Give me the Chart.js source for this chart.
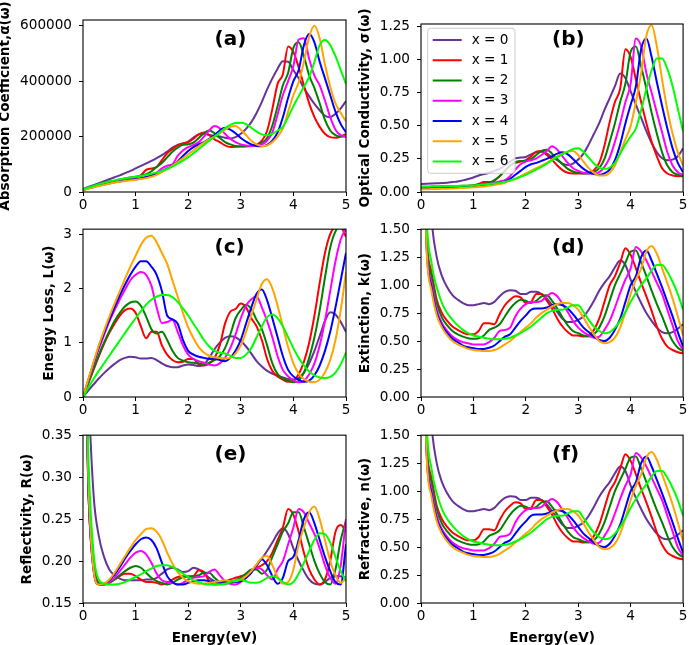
<!DOCTYPE html>
<html><head><meta charset="utf-8">
<script src="https://cdn.jsdelivr.net/npm/chart.js@4.4.0/dist/chart.umd.min.js"></script>
<style>
body{margin:0;background:#fff;width:689px;height:645px;overflow:hidden;position:relative}
canvas{position:absolute}
</style></head><body>
<canvas id="pa" width="352" height="214" style="left:0;top:0"></canvas>
<canvas id="pb" width="351" height="214" style="left:338px;top:0"></canvas>
<canvas id="pc" width="352" height="206" style="left:0;top:214px"></canvas>
<canvas id="pd" width="351" height="206" style="left:338px;top:214px"></canvas>
<canvas id="pe" width="352" height="225" style="left:0;top:420px"></canvas>
<canvas id="pf" width="351" height="225" style="left:338px;top:420px"></canvas>
<script>
// ---------------- data ----------------
const energy = [0,0.1,0.2,0.3,0.4,0.5,0.6,0.7,0.8,0.9,1,1.1,1.2,1.3,1.4,1.5,1.6,1.7,1.8,1.9,2,2.1,2.2,2.3,2.4,2.5,2.6,2.7,2.8,2.9,3,3.1,3.2,3.3,3.4,3.5,3.6,3.7,3.8,3.9,4,4.1,4.2,4.3,4.4,4.5,4.6,4.7,4.8,4.9,5];
const seriesNames = ['x = 0','x = 1','x = 2','x = 3','x = 4','x = 5','x = 6'];
const seriesColors = ['#663399','#ff0000','#008000','#ff00ff','#0000ff','#ffa500','#00ff00'];

const xTicks = [0,1,2,3,4,5];
const xTickLabels = ['0','1','2','3','4','5'];

// (a) absorption coefficient, in units of 1000
const absorptionK = [
 [10,18,25,32,39,46,53,60,68,76,85,94,103,112,122,133,146,160,170,175,182,196,208,210,206,203,200,196,193,198,210,228,252,285,325,370,410,445,472,470,440,410,375,345,318,295,275,270,282,302,328],
 [8,14,19,24,29,34,38,42,45,48,52,60,80,85,90,115,140,155,168,175,180,192,208,215,205,190,180,168,162,163,165,165,166,170,185,220,300,390,425,525,505,450,385,320,270,235,210,198,196,200,210],
 [8,15,21,27,32,37,41,45,49,52,55,59,64,75,90,105,125,145,160,170,172,178,195,212,222,212,195,180,172,166,164,165,167,170,178,195,240,310,385,430,520,540,490,420,375,320,260,222,205,200,200],
 [8,14,19,24,29,33,37,40,43,45,47,50,54,60,70,85,95,100,130,150,162,170,180,200,222,238,230,210,192,180,172,168,166,168,172,185,215,280,350,400,455,550,555,480,420,385,330,270,225,205,200],
 [7,13,18,23,27,31,35,38,41,44,46,49,53,58,65,75,85,95,110,130,148,162,172,180,192,205,222,232,225,212,195,182,172,166,165,170,185,215,270,340,400,440,530,570,540,470,410,350,290,245,215],
 [7,12,17,22,26,30,34,37,40,42,44,47,50,55,62,72,83,95,108,122,136,150,165,178,190,200,212,225,235,238,225,205,185,172,166,168,180,200,230,290,350,395,470,560,600,555,460,380,320,285,255],
 [9,16,22,28,33,38,42,46,49,52,55,58,62,66,70,76,83,92,102,113,126,140,155,170,185,200,215,230,242,249,250,245,232,218,208,205,210,222,235,270,310,345,380,415,470,530,548,530,490,440,390]
];
const absorptionTicks = [0,200,400,600];
const absorptionTickLabels = ['0','200000','400000','600000'];

// (b) optical conductivity
const conductivity = [
 [0.06,0.062,0.064,0.066,0.068,0.07,0.075,0.08,0.088,0.098,0.11,0.125,0.135,0.145,0.16,0.175,0.2,0.23,0.255,0.26,0.265,0.285,0.3,0.305,0.29,0.265,0.24,0.215,0.205,0.215,0.245,0.29,0.36,0.44,0.52,0.62,0.71,0.8,0.895,0.86,0.76,0.66,0.56,0.46,0.37,0.3,0.255,0.24,0.245,0.27,0.33],
 [0.03,0.03,0.031,0.032,0.033,0.034,0.035,0.037,0.04,0.045,0.05,0.06,0.075,0.075,0.085,0.12,0.16,0.2,0.22,0.23,0.24,0.27,0.305,0.31,0.28,0.245,0.2,0.165,0.145,0.14,0.14,0.14,0.145,0.165,0.22,0.35,0.53,0.68,0.78,1.08,1.02,0.85,0.68,0.52,0.38,0.27,0.18,0.14,0.125,0.12,0.12],
 [0.04,0.04,0.041,0.042,0.043,0.044,0.045,0.046,0.047,0.048,0.05,0.055,0.06,0.07,0.09,0.12,0.16,0.2,0.225,0.235,0.235,0.25,0.28,0.31,0.32,0.29,0.25,0.21,0.175,0.155,0.145,0.14,0.14,0.15,0.18,0.25,0.38,0.52,0.68,0.82,1.06,1.1,0.95,0.78,0.6,0.44,0.3,0.2,0.15,0.13,0.12],
 [0.03,0.03,0.031,0.032,0.033,0.034,0.035,0.037,0.039,0.042,0.045,0.05,0.055,0.06,0.07,0.08,0.09,0.12,0.17,0.21,0.23,0.24,0.255,0.28,0.31,0.345,0.32,0.27,0.22,0.18,0.16,0.145,0.14,0.14,0.15,0.19,0.26,0.38,0.52,0.68,0.82,1.16,1.1,0.9,0.75,0.6,0.45,0.3,0.2,0.15,0.13],
 [0.03,0.03,0.031,0.032,0.033,0.034,0.035,0.036,0.037,0.038,0.04,0.043,0.047,0.052,0.06,0.07,0.08,0.1,0.13,0.16,0.19,0.21,0.22,0.235,0.25,0.27,0.29,0.3,0.285,0.25,0.21,0.175,0.15,0.135,0.13,0.14,0.17,0.24,0.36,0.52,0.66,0.8,1.08,1.16,1.02,0.83,0.65,0.48,0.33,0.22,0.15],
 [0.02,0.021,0.022,0.023,0.024,0.025,0.027,0.029,0.031,0.033,0.035,0.038,0.042,0.047,0.053,0.06,0.07,0.085,0.1,0.12,0.14,0.16,0.18,0.2,0.22,0.245,0.27,0.29,0.305,0.31,0.28,0.23,0.18,0.145,0.125,0.125,0.145,0.2,0.3,0.4,0.5,0.68,0.9,1.18,1.26,1.1,0.85,0.62,0.44,0.3,0.2],
 [0.04,0.04,0.041,0.042,0.043,0.044,0.045,0.046,0.047,0.048,0.05,0.053,0.056,0.06,0.065,0.07,0.078,0.088,0.1,0.115,0.13,0.15,0.17,0.19,0.215,0.24,0.265,0.285,0.305,0.325,0.33,0.305,0.26,0.215,0.185,0.175,0.185,0.22,0.29,0.36,0.42,0.48,0.62,0.78,0.92,1.01,1.01,0.93,0.8,0.63,0.46]
];
const conductivityTicks = [0,0.25,0.5,0.75,1,1.25];
const conductivityTickLabels = ['0.00','0.25','0.50','0.75','1.00','1.25'];

// (c) energy loss
const energyLoss = [
 [0,0.12,0.23,0.34,0.44,0.53,0.61,0.68,0.72,0.74,0.73,0.71,0.71,0.72,0.68,0.62,0.57,0.55,0.55,0.58,0.6,0.59,0.57,0.6,0.72,0.88,1,1.09,1.12,1.1,1.03,0.93,0.8,0.66,0.56,0.48,0.43,0.39,0.36,0.33,0.32,0.35,0.45,0.62,0.85,1.12,1.4,1.56,1.52,1.38,1.2],
 [0,0.25,0.5,0.75,0.98,1.18,1.35,1.5,1.6,1.63,1.55,1.3,1.08,1.2,1.2,0.95,0.78,0.68,0.64,0.65,0.7,0.7,0.6,0.58,0.62,0.72,0.95,1.35,1.57,1.62,1.72,1.65,1.45,1.3,1.05,0.7,0.48,0.38,0.32,0.28,0.3,0.42,0.65,1,1.5,2.1,2.65,3,3.12,3.12,2.95],
 [0,0.26,0.52,0.77,1,1.21,1.4,1.55,1.67,1.74,1.76,1.68,1.48,1.25,1.17,1.2,1.05,0.85,0.72,0.67,0.64,0.63,0.62,0.6,0.63,0.68,0.75,0.9,1.15,1.45,1.6,1.7,1.62,1.42,1.25,0.95,0.62,0.42,0.34,0.3,0.27,0.3,0.45,0.72,1.1,1.6,2.2,2.75,3.05,3.15,3.05],
 [0,0.3,0.6,0.88,1.14,1.39,1.6,1.8,1.98,2.15,2.25,2.3,2.25,2.05,1.65,1.36,1.38,1.42,1.2,0.95,0.78,0.7,0.66,0.63,0.6,0.58,0.62,0.72,0.9,1.15,1.45,1.68,1.8,1.85,1.65,1.4,1.1,0.75,0.5,0.38,0.31,0.27,0.3,0.42,0.62,0.95,1.4,1.95,2.5,2.9,3.1],
 [0,0.31,0.62,0.92,1.18,1.42,1.65,1.87,2.07,2.25,2.4,2.5,2.5,2.4,2.25,1.95,1.5,1.43,1.35,1.05,0.85,0.78,0.74,0.72,0.7,0.7,0.68,0.66,0.72,0.85,1.05,1.35,1.65,1.9,1.98,1.78,1.45,1.1,0.75,0.5,0.38,0.32,0.28,0.3,0.4,0.58,0.85,1.2,1.65,2.15,2.65],
 [0,0.32,0.64,0.95,1.22,1.48,1.72,1.95,2.18,2.4,2.6,2.8,2.93,2.97,2.85,2.65,2.45,2.15,1.85,1.55,1.28,1.08,0.92,0.82,0.76,0.73,0.72,0.71,0.72,0.8,0.95,1.2,1.5,1.8,2.08,2.17,2,1.68,1.3,0.92,0.62,0.43,0.33,0.28,0.27,0.32,0.45,0.68,1.05,1.6,2.3],
 [0,0.17,0.33,0.48,0.62,0.76,0.9,1.04,1.18,1.32,1.45,1.58,1.7,1.79,1.85,1.88,1.88,1.84,1.75,1.63,1.5,1.35,1.2,1.05,0.93,0.85,0.82,0.8,0.76,0.72,0.72,0.78,0.9,1.1,1.3,1.47,1.52,1.45,1.3,1.1,0.9,0.72,0.58,0.47,0.4,0.36,0.35,0.37,0.45,0.6,0.82]
];
const energyLossTicks = [0,1,2,3];
const energyLossTickLabels = ['0','1','2','3'];

// (d) extinction coefficient
const extinction = [
 [4,2.5,1.6,1.25,1.08,0.98,0.91,0.87,0.84,0.82,0.82,0.83,0.84,0.83,0.85,0.9,0.94,0.955,0.95,0.92,0.92,0.94,0.94,0.92,0.88,0.82,0.76,0.7,0.67,0.67,0.69,0.72,0.78,0.86,0.95,1.02,1.08,1.16,1.22,1.18,1.05,0.94,0.84,0.75,0.68,0.62,0.58,0.57,0.58,0.61,0.65],
 [4,1.5,1.12,0.87,0.75,0.68,0.63,0.6,0.575,0.56,0.56,0.59,0.66,0.66,0.65,0.74,0.82,0.87,0.9,0.89,0.84,0.85,0.92,0.92,0.86,0.79,0.7,0.63,0.58,0.55,0.55,0.54,0.55,0.6,0.7,0.85,1,1.08,1.2,1.33,1.27,1.15,1.02,0.9,0.77,0.63,0.52,0.45,0.42,0.4,0.39],
 [4,1.47,1.08,0.84,0.71,0.64,0.59,0.56,0.54,0.525,0.52,0.525,0.55,0.6,0.62,0.65,0.72,0.79,0.84,0.87,0.86,0.84,0.86,0.9,0.91,0.86,0.79,0.71,0.64,0.59,0.57,0.55,0.54,0.56,0.62,0.72,0.86,1,1.1,1.2,1.3,1.31,1.2,1.08,0.95,0.83,0.72,0.6,0.5,0.44,0.41],
 [4,1.44,1.02,0.78,0.66,0.59,0.54,0.51,0.49,0.48,0.47,0.47,0.47,0.49,0.53,0.59,0.6,0.62,0.72,0.79,0.83,0.85,0.85,0.86,0.9,0.93,0.9,0.83,0.76,0.68,0.62,0.58,0.55,0.53,0.54,0.6,0.68,0.8,0.93,1.05,1.15,1.34,1.3,1.22,1.12,1.02,0.92,0.78,0.64,0.5,0.42],
 [4,1.42,0.98,0.75,0.64,0.57,0.52,0.49,0.46,0.445,0.435,0.43,0.43,0.44,0.46,0.5,0.54,0.56,0.62,0.68,0.73,0.78,0.79,0.79,0.8,0.82,0.83,0.82,0.79,0.74,0.68,0.62,0.58,0.54,0.51,0.5,0.53,0.6,0.7,0.85,1,1.08,1.25,1.31,1.22,1.1,0.98,0.85,0.72,0.58,0.45],
 [4,1.4,0.95,0.73,0.62,0.55,0.5,0.47,0.45,0.43,0.42,0.415,0.41,0.41,0.42,0.44,0.47,0.5,0.54,0.58,0.62,0.66,0.71,0.75,0.78,0.81,0.83,0.84,0.84,0.82,0.78,0.71,0.63,0.56,0.5,0.48,0.49,0.53,0.62,0.76,0.92,1.05,1.15,1.3,1.35,1.28,1.15,1.02,0.88,0.72,0.55],
 [4,1.7,1.2,0.98,0.84,0.75,0.69,0.64,0.6,0.57,0.55,0.54,0.53,0.52,0.515,0.515,0.52,0.53,0.55,0.57,0.6,0.63,0.67,0.71,0.75,0.77,0.78,0.78,0.8,0.82,0.82,0.76,0.69,0.63,0.59,0.57,0.58,0.62,0.68,0.76,0.85,0.93,1,1.06,1.13,1.18,1.18,1.12,1.03,0.92,0.78]
];
const kTicks = [0,0.25,0.5,0.75,1,1.25,1.5];
const kTickLabels = ['0.00','0.25','0.50','0.75','1.00','1.25','1.50'];

// (e) reflectivity
const reflectivity = [
 [0.7,0.42,0.28,0.23,0.205,0.19,0.183,0.179,0.177,0.177,0.177,0.177,0.178,0.178,0.18,0.185,0.19,0.192,0.19,0.187,0.188,0.192,0.19,0.185,0.18,0.176,0.174,0.174,0.175,0.177,0.18,0.183,0.188,0.195,0.203,0.212,0.222,0.233,0.239,0.232,0.215,0.2,0.188,0.178,0.173,0.172,0.175,0.18,0.182,0.182,0.18],
 [0.6,0.3,0.2,0.174,0.172,0.174,0.178,0.182,0.185,0.185,0.182,0.178,0.175,0.175,0.174,0.172,0.174,0.178,0.181,0.182,0.181,0.182,0.189,0.187,0.176,0.172,0.173,0.175,0.178,0.18,0.182,0.184,0.188,0.192,0.195,0.2,0.21,0.225,0.24,0.262,0.255,0.235,0.21,0.19,0.178,0.172,0.178,0.2,0.235,0.243,0.235],
 [0.6,0.29,0.195,0.173,0.172,0.174,0.178,0.183,0.188,0.192,0.194,0.192,0.186,0.18,0.176,0.174,0.172,0.174,0.178,0.181,0.182,0.182,0.183,0.186,0.186,0.18,0.175,0.173,0.174,0.177,0.18,0.185,0.19,0.19,0.185,0.19,0.205,0.22,0.235,0.245,0.258,0.258,0.24,0.22,0.2,0.185,0.175,0.172,0.19,0.225,0.248],
 [0.6,0.29,0.19,0.172,0.172,0.175,0.18,0.188,0.196,0.204,0.21,0.212,0.208,0.198,0.185,0.177,0.175,0.174,0.172,0.174,0.178,0.18,0.181,0.182,0.187,0.19,0.183,0.176,0.173,0.172,0.175,0.18,0.188,0.192,0.19,0.183,0.178,0.19,0.2,0.22,0.24,0.262,0.258,0.245,0.232,0.215,0.195,0.18,0.173,0.195,0.25],
 [0.6,0.29,0.19,0.172,0.173,0.177,0.184,0.193,0.203,0.212,0.22,0.226,0.228,0.225,0.215,0.198,0.182,0.175,0.172,0.172,0.174,0.176,0.177,0.177,0.176,0.175,0.175,0.176,0.176,0.175,0.176,0.18,0.186,0.195,0.202,0.195,0.182,0.173,0.18,0.2,0.205,0.225,0.25,0.258,0.245,0.225,0.205,0.188,0.175,0.172,0.22],
 [0.6,0.3,0.19,0.172,0.173,0.178,0.186,0.196,0.206,0.216,0.225,0.232,0.238,0.239,0.235,0.225,0.21,0.197,0.187,0.18,0.176,0.174,0.173,0.173,0.174,0.175,0.176,0.177,0.176,0.176,0.178,0.182,0.188,0.196,0.204,0.206,0.195,0.181,0.173,0.175,0.19,0.22,0.24,0.258,0.265,0.25,0.225,0.2,0.183,0.174,0.18],
 [0.65,0.33,0.21,0.178,0.173,0.172,0.172,0.173,0.175,0.178,0.181,0.184,0.188,0.191,0.194,0.195,0.195,0.193,0.189,0.185,0.181,0.177,0.175,0.173,0.172,0.172,0.172,0.173,0.175,0.177,0.178,0.176,0.174,0.174,0.176,0.18,0.182,0.18,0.175,0.172,0.175,0.185,0.198,0.212,0.225,0.233,0.232,0.222,0.205,0.188,0.176]
];
const reflectivityTicks = [0.15,0.2,0.25,0.3,0.35];
const reflectivityTickLabels = ['0.15','0.20','0.25','0.30','0.35'];

// (f) refractive index: the picture shows the same curves as (d)
const refractive = extinction;
const nTicks = kTicks;
const nTickLabels = kTickLabels;

// ---------------- drawing ----------------
const FONT = "'DejaVu Sans', sans-serif";

const framePlugin = {
  id: 'frame',
  afterDatasetsDraw(chart) {
    const {ctx, chartArea: a} = chart;
    ctx.save();
    ctx.strokeStyle = '#000';
    ctx.lineWidth = 1.1;
    ctx.strokeRect(a.left, a.top, a.right - a.left, a.bottom - a.top);
    ctx.restore();
  }
};

const tagPlugin = {
  id: 'tag',
  afterDraw(chart, args, opts) {
    if (!opts.text) return;
    const {ctx, chartArea: a} = chart;
    ctx.save();
    ctx.font = 'bold 20px ' + FONT;
    ctx.fillStyle = '#000';
    ctx.textAlign = 'left';
    ctx.textBaseline = 'middle';
    ctx.fillText(opts.text, a.left + (a.right - a.left) * 0.5, a.top + opts.dy);
    ctx.restore();
  }
};

const boxLegendPlugin = {
  id: 'boxLegend',
  afterDraw(chart, args, opts) {
    if (!opts.show) return;
    const {ctx, chartArea: a} = chart;
    const x = a.left + 6.7, y = a.top + 4.3, w = 87.3, h = 145, r = 3;
    ctx.save();
    ctx.beginPath();
    ctx.moveTo(x + r, y);
    ctx.lineTo(x + w - r, y); ctx.arcTo(x + w, y, x + w, y + r, r);
    ctx.lineTo(x + w, y + h - r); ctx.arcTo(x + w, y + h, x + w - r, y + h, r);
    ctx.lineTo(x + r, y + h); ctx.arcTo(x, y + h, x, y + h - r, r);
    ctx.lineTo(x, y + r); ctx.arcTo(x, y, x + r, y, r);
    ctx.closePath();
    ctx.fillStyle = 'rgba(255,255,255,0.8)';
    ctx.fill();
    ctx.strokeStyle = '#cccccc';
    ctx.lineWidth = 1;
    ctx.stroke();
    ctx.font = '13.6px ' + FONT;
    ctx.textAlign = 'left';
    ctx.textBaseline = 'middle';
    chart.data.datasets.forEach((ds, i) => {
      const cy = a.top + 16 + 20.25 * i;
      ctx.strokeStyle = ds.borderColor;
      ctx.lineWidth = 2;
      ctx.beginPath();
      ctx.moveTo(a.left + 11.7, cy);
      ctx.lineTo(a.left + 40.7, cy);
      ctx.stroke();
      ctx.fillStyle = '#000';
      ctx.fillText(ds.label, a.left + 50.7, cy);
    });
    ctx.restore();
  }
};

function panel(p) {
  const box = p.box, pl = p.plot;
  const tickFont = {family: FONT, size: 13.6};
  const titleFont = {family: FONT, size: 13.6, weight: 'bold', lineHeight: 0};
  const gridOpts = {display: true, drawOnChartArea: false, drawTicks: true, tickLength: 4, color: '#000', lineWidth: 1};
  new Chart(document.getElementById(p.id), {
    type: 'line',
    data: {
      datasets: p.series.map((arr, i) => ({
        label: seriesNames[i],
        data: energy.map((e, j) => ({x: e, y: arr[j]})),
        borderColor: seriesColors[i],
        backgroundColor: seriesColors[i],
        borderWidth: 2,
        pointRadius: 0,
        fill: false,
        cubicInterpolationMode: 'monotone',
        order: -i
      }))
    },
    options: {
      responsive: false,
      animation: false,
      devicePixelRatio: 1,
      events: [],
      layout: {padding: {top: pl.t - box.top, left: 0, right: box.left + box.width - pl.r, bottom: 0}},
      plugins: {
        legend: {display: false},
        tooltip: {enabled: false},
        tag: {text: p.tag, dy: p.tagDy},
        boxLegend: {show: !!p.legend}
      },
      scales: {
        x: {
          type: 'linear', min: 0, max: 5,
          afterBuildTicks: s => { s.ticks = xTicks.map(v => ({value: v})); },
          afterFit: s => { s.height = box.top + box.height - pl.b; },
          ticks: {callback: (v, i) => xTickLabels[i], font: tickFont, color: '#000', padding: 1.6, maxRotation: 0, autoSkip: false},
          grid: gridOpts,
          border: {display: false},
          title: {display: !!p.xTitle, text: 'Energy(eV)', font: titleFont, color: '#000', padding: {top: 0, bottom: 7}}
        },
        y: {
          type: 'linear', min: p.yMin, max: p.yMax,
          afterBuildTicks: s => { s.ticks = p.yTicks.map(v => ({value: v})); },
          afterFit: s => { s.width = pl.l - box.left; },
          ticks: {callback: (v, i) => p.yTickLabels[i], font: tickFont, color: '#000', padding: 7, autoSkip: false},
          grid: gridOpts,
          border: {display: false},
          title: {display: true, text: p.yTitle, font: titleFont, color: '#000', padding: {top: p.yTitleX - box.left, bottom: 0}}
        }
      }
    },
    plugins: [framePlugin, tagPlugin, boxLegendPlugin]
  });
}

panel({id: 'pa', box: {left: 0, top: 0, width: 352, height: 214}, plot: {l: 83, t: 20, r: 346, b: 192},
  series: absorptionK, yMin: 0, yMax: 620.6, yTicks: absorptionTicks, yTickLabels: absorptionTickLabels,
  yTitle: 'Absorption Coefficient,α(ω)', yTitleX: 5.8, tag: '(a)', tagDy: 19.5});
panel({id: 'pb', box: {left: 338, top: 0, width: 351, height: 214}, plot: {l: 421, t: 24, r: 684, b: 192},
  series: conductivity, yMin: 0, yMax: 1.27, yTicks: conductivityTicks, yTickLabels: conductivityTickLabels,
  yTitle: 'Optical Conductivity, σ(ω)', yTitleX: 365.8, tag: '(b)', tagDy: 15.5, legend: true});
panel({id: 'pc', box: {left: 0, top: 214, width: 352, height: 206}, plot: {l: 83, t: 227, r: 346, b: 397},
  series: energyLoss, yMin: 0, yMax: 3.09, yTicks: energyLossTicks, yTickLabels: energyLossTickLabels,
  yTitle: 'Energy Loss, L(ω)', yTitleX: 49.8, tag: '(c)', tagDy: 19});
panel({id: 'pd', box: {left: 338, top: 214, width: 351, height: 206}, plot: {l: 421, t: 227, r: 684, b: 397},
  series: extinction, yMin: 0, yMax: 1.5, yTicks: kTicks, yTickLabels: kTickLabels,
  yTitle: 'Extinction, k(ω)', yTitleX: 365.8, tag: '(d)', tagDy: 19});
panel({id: 'pe', box: {left: 0, top: 420, width: 352, height: 225}, plot: {l: 83, t: 432, r: 346, b: 603},
  series: reflectivity, yMin: 0.15, yMax: 0.35, yTicks: reflectivityTicks, yTickLabels: reflectivityTickLabels,
  yTitle: 'Reflectivity, R(ω)', yTitleX: 27.5, tag: '(e)', tagDy: 20, xTitle: true});
panel({id: 'pf', box: {left: 338, top: 420, width: 351, height: 225}, plot: {l: 421, t: 432, r: 684, b: 603},
  series: refractive, yMin: 0, yMax: 1.5, yTicks: nTicks, yTickLabels: nTickLabels,
  yTitle: 'Refractive, n(ω)', yTitleX: 365.5, tag: '(f)', tagDy: 20, xTitle: true});
</script>
</body></html>
